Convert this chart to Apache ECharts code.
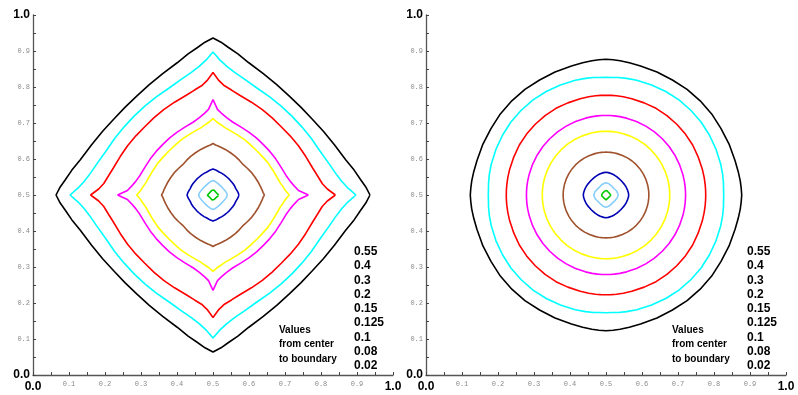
<!DOCTYPE html>
<html><head><meta charset="utf-8">
<script src="https://cdn.jsdelivr.net/npm/echarts@6/dist/echarts.min.js"></script>
<style>html,body{margin:0;padding:0;background:#fff}#c{width:798px;height:395px}</style>
</head><body><div id="c"></div>
<script>
// contour levels, listed from center to boundary
const levels = ['0.55', '0.4', '0.3', '0.2', '0.15', '0.125', '0.1', '0.08', '0.02'];
const levelColors = ['#00c800', '#87cefa', '#0000b4', '#a0522d', '#ffff00', '#ff00ff', '#ff0000', '#00ffff', '#000000'];
const captionLines = ['Values', 'from center', 'to boundary'];
const octantAngles = [0, 3, 6, 10, 15, 22.5, 30, 37.5, 45];
// distance from (0.5, 0.5) of each contour, left panel (diamond-like)
const leftRadii = [
  [0.016, 0.0155, 0.015, 0.014, 0.013, 0.012, 0.0115, 0.011, 0.011],
  [0.040, 0.0395, 0.039, 0.038, 0.036, 0.035, 0.034, 0.033, 0.032],
  [0.072, 0.071, 0.070, 0.068, 0.066, 0.065, 0.064, 0.063, 0.063],
  [0.143, 0.139, 0.137, 0.134, 0.131, 0.127, 0.124, 0.121, 0.119],
  [0.212, 0.203, 0.197, 0.190, 0.185, 0.180, 0.177, 0.174, 0.173],
  [0.265, 0.238, 0.228, 0.218, 0.210, 0.204, 0.201, 0.199, 0.198],
  [0.340, 0.318, 0.305, 0.296, 0.287, 0.279, 0.274, 0.270, 0.268],
  [0.397, 0.375, 0.360, 0.346, 0.334, 0.321, 0.315, 0.311, 0.310],
  [0.436, 0.425, 0.412, 0.398, 0.381, 0.365, 0.354, 0.347, 0.345]
];
// distance from (0.5, 0.5) of each contour, right panel (circle-like)
const rightRadii = [
  [0.0135, 0.0133, 0.013, 0.0125, 0.012, 0.011, 0.0105, 0.010, 0.010],
  [0.034, 0.0337, 0.0333, 0.0325, 0.032, 0.031, 0.0295, 0.0285, 0.028],
  [0.063, 0.0628, 0.0625, 0.062, 0.061, 0.060, 0.059, 0.058, 0.058],
  [0.119, 0.119, 0.119, 0.119, 0.119, 0.119, 0.119, 0.119, 0.119],
  [0.177, 0.177, 0.177, 0.177, 0.177, 0.177, 0.177, 0.177, 0.177],
  [0.221, 0.221, 0.221, 0.221, 0.221, 0.221, 0.221, 0.221, 0.221],
  [0.277, 0.277, 0.277, 0.277, 0.277, 0.277, 0.278, 0.278, 0.278],
  [0.327, 0.327, 0.328, 0.329, 0.330, 0.331, 0.332, 0.333, 0.333],
  [0.377, 0.376, 0.375, 0.373, 0.371, 0.370, 0.369, 0.370, 0.370]
];
const centerX = 0.5, centerY = 0.5;

function contourPoints(radii) {
  // assemble full loop from one octant using the 8-fold symmetry of the picture
  const seq = [];
  for (let i = 0; i < octantAngles.length; i++) seq.push([octantAngles[i], radii[i]]);
  for (let i = octantAngles.length - 2; i >= 1; i--) seq.push([90 - octantAngles[i], radii[i]]);
  const pts = [];
  for (let q = 0; q < 4; q++) {
    for (const [a, r] of seq) {
      const t = (q * 90 + a) * Math.PI / 180;
      pts.push([centerX + r * Math.cos(t), centerY + r * Math.sin(t)]);
    }
  }
  pts.push(pts[0]);
  return pts;
}

const chart = echarts.init(document.getElementById('c'), null, {renderer: 'canvas'});
const FONT = 'Liberation Sans, Arial, Helvetica, sans-serif';
const grids = [
  {left: 33, top: 15, width: 360, height: 360},
  {left: 426, top: 15, width: 360, height: 360}
];
function labelFmt(v) {
  const s = v.toFixed(1);
  return (Math.abs(v) < 1e-9 || Math.abs(v - 1) < 1e-9) ? '{b|' + s + '}' : '{s|' + s + '}';
}
const rich = {
  b: {fontFamily: FONT, fontWeight: 'bold', fontSize: 12, color: '#000'},
  s: {fontFamily: 'Liberation Mono, DejaVu Sans Mono, monospace', fontSize: 7, color: '#8a8a8a'}
};
function axis(gi, isX) {
  return {
    type: 'value', gridIndex: gi, min: 0, max: 1, interval: 0.1,
    axisLine: {show: true, onZero: false, lineStyle: {color: '#555', width: 1.3}},
    axisTick: {show: true, inside: true, length: 3, lineStyle: {color: '#444', width: 1}},
    minorTick: {show: true, splitNumber: 2, length: 3, lineStyle: {color: '#444', width: 1}},
    splitLine: {show: false}, minorSplitLine: {show: false},
    axisLabel: {show: true, showMinLabel: true, showMaxLabel: true, margin: isX ? 6 : 3,
      formatter: labelFmt, rich: rich}
  };
}
const series = [];
[leftRadii, rightRadii].forEach((set, gi) => {
  set.forEach((radii, li) => {
    series.push({
      type: 'line', xAxisIndex: gi, yAxisIndex: gi, name: levels[li],
      data: contourPoints(radii), showSymbol: false, symbol: 'none', smooth: false,
      lineStyle: {color: levelColors[li], width: 1.6}, silent: true, z: 3
    });
  });
});
const graphics = [];
grids.forEach(g => {
  graphics.push({type: 'text', left: g.left + 321, top: 244.5, silent: true,
    style: {text: levels.join('\n'), font: 'bold 12px ' + FONT, fill: '#000', lineHeight: 14.3}});
  graphics.push({type: 'text', left: g.left + 246, top: 322.6, silent: true,
    style: {text: captionLines.join('\n'), font: 'bold 10px ' + FONT, fill: '#000', lineHeight: 14.7}});
});
chart.setOption({
  animation: false,
  backgroundColor: '#fff',
  grid: grids,
  xAxis: [axis(0, true), axis(1, true)],
  yAxis: [axis(0, false), axis(1, false)],
  series: series,
  graphic: graphics
});
</script></body></html>
